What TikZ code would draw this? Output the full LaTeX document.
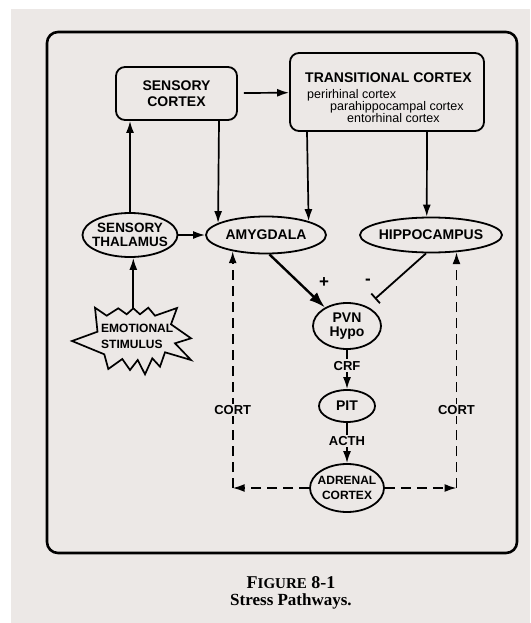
\documentclass[tikz,border=0pt]{standalone}
\usepackage{fontspec}
\setmainfont{Liberation Serif}
\newfontfamily\diagfont{Liberation Sans}
\usetikzlibrary{arrows.meta,shapes.geometric}
\definecolor{paper}{RGB}{236,232,230}
\tikzset{
	lbl/.style={font=\diagfont\bfseries\fontsize{14}{15}\selectfont, align=center, inner sep=0pt},
	sublbl/.style={font=\diagfont\fontsize{12.5}{10}\selectfont, inner sep=0pt, anchor=base west},
	smalllbl/.style={font=\diagfont\bfseries\fontsize{13}{13}\selectfont, inner sep=1.5pt, fill=paper},
	box/.style={draw, line width=1.8pt, rounded corners=9pt},
	oval/.style={draw, ellipse, line width=1.8pt, inner sep=0pt},
	conn/.style={->, line width=1.7pt},
	cort/.style={->, line width=1.7pt, dash pattern=on 10pt off 6pt}
}

\begin{document}
\begin{tikzpicture}[x=1pt, y=-1pt, >={Latex[length=12pt,width=8pt]}]
			\useasboundingbox (0,0) rectangle (530,623);
			% Draw the page and the frame
			\fill[white] (0,0) rectangle (530,623);
			\fill[paper] (11,9) rectangle (530,623);
			\draw[line width=2.6pt, rounded corners=11pt] (47,32) rectangle (517,553);

			% Draw the cortex boxes
			\node[box, minimum width=121pt, minimum height=53pt] (scx) at (176.5,93.5) {};
			\node[lbl, font=\diagfont\bfseries\fontsize{14}{16.5}\selectfont] (scxtxt) at (scx) {SENSORY\\CORTEX};
			\node[box, minimum width=194pt, minimum height=78pt] (tcx) at (387,92) {};
			\node[lbl, anchor=base west] (tcxtxt) at (305,83) {TRANSITIONAL CORTEX};
			\node[sublbl] (peri) at (307,98.5) {perirhinal cortex};
			\node[sublbl] (para) at (330,110.5) {parahippocampal cortex};
			\node[sublbl] (ento) at (347,122.5) {entorhinal cortex};

			% Draw the ellipses
			\node[oval, minimum width=95pt, minimum height=44pt] (thal) at (130,235) {};
			\node[lbl, font=\diagfont\bfseries\fontsize{13.5}{14}\selectfont] (thaltxt) at (thal) {SENSORY\\THALAMUS};
			\node[oval, minimum width=120pt, minimum height=37pt] (amyg) at (266,235) {};
			\node[lbl] (amygtxt) at (amyg) {AMYGDALA};
			\node[oval, minimum width=142pt, minimum height=35pt] (hipp) at (431,235) {};
			\node[lbl] (hipptxt) at (hipp) {HIPPOCAMPUS};
			\node[oval, minimum width=68pt, minimum height=46pt] (pvn) at (347,326) {};
			\node[lbl, font=\diagfont\bfseries\fontsize{14}{14}\selectfont] (pvntxt) at (pvn) {PVN\\Hypo};
			\node[oval, minimum width=56pt, minimum height=32pt] (pit) at (347,406) {};
			\node[lbl] (pittxt) at (pit) {PIT};
			\node[oval, minimum width=74pt, minimum height=48pt] (adr) at (347,488) {};
			\node[lbl, font=\diagfont\bfseries\fontsize{12}{15}\selectfont] (adrtxt) at (adr) {ADRENAL\\CORTEX};

			% Draw the emotional stimulus
			\draw[line width=1.7pt, line join=miter] (95,307.7) -- (106.7,315.7) -- (118.3,308.3) -- (126.7,314.3) -- (133.3,308.3) -- (140,314.3) -- (148.3,307.7) -- (155,315.7) -- (177,308) -- (171,324.3) -- (191,338.3) -- (175,343.3) -- (191,360) -- (165,352.3) -- (160,366.7) -- (152.3,358.3) -- (145,374.3) -- (137.7,360) -- (130,370) -- (122.3,359) -- (108.3,369) -- (104.3,354.3) -- (72,341) -- (97.5,331.7) -- cycle;
			\coordinate (stimtop) at (133.3,308.3);
			\node[lbl, font=\diagfont\bfseries\fontsize{12}{16}\selectfont, align=left, anchor=west] (stimtxt) at (101,336.5) {EMOTIONAL\\STIMULUS};

			% Draw the pathways
			\draw[conn] (stimtop) -- (stimtop |- thal.south);
			\draw[conn] (thal.north) -- (thal.north |- scx.south);
			\draw[conn] (thal) -- (amyg);
			\draw[conn, shorten <=6pt] (scx) -- (tcx);
			\draw[conn] ([xshift=42.5pt]scx.south) -- (amyg.166);
			\draw[conn] ([xshift=-80pt]tcx.south) -- (amyg.18);
			\draw[conn] ([xshift=40pt]tcx.south) -- (hipp.103);

			% Draw the excitatory and inhibitory inputs
			\draw[-{Latex[length=16pt,width=11pt]}, line width=2.4pt] (amyg.-80) -- (pvn.140);
			\draw[-{Bar[width=13pt,line width=1.8pt]}, line width=1.8pt, shorten >=11pt] (hipp.-105) -- (pvn.45);
			\node[lbl, font=\diagfont\bfseries\fontsize{17}{17}\selectfont] (plus) at (324,283) {+};
			\node[lbl, font=\diagfont\bfseries\fontsize{17}{17}\selectfont] (minus) at (368,282) {-};

			% Draw the hormone chain
			\draw[conn] (pvn) -- (pit) node[pos=0.4, smalllbl] {CRF};
			\draw[conn] (pit) -- (adr) node[pos=0.45, smalllbl] {ACTH};

			% Draw the feedback lines
			\coordinate (lc) at (amyg.206 |- adr.west);
			\coordinate (rc) at (hipp.-34.5 |- adr.east);
			\draw[cort] (adr) -- (lc);
			\draw[cort] (adr) -- (rc);
			\draw[cort] (lc) -- (amyg.206) node[pos=0.33, smalllbl] {CORT};
			\draw[cort] (rc) -- (hipp.-34.5) node[pos=0.33, smalllbl] {CORT};

			% Put the caption
			\node[font=\bfseries\fontsize{18}{18}\selectfont] (fig) at (291,583) {F{\fontsize{15}{15}\selectfont IGURE} 8-1};
			\node[font=\bfseries\fontsize{17}{17}\selectfont] (cap) at (291,601) {Stress Pathways.};
		\end{tikzpicture}
\end{document}
